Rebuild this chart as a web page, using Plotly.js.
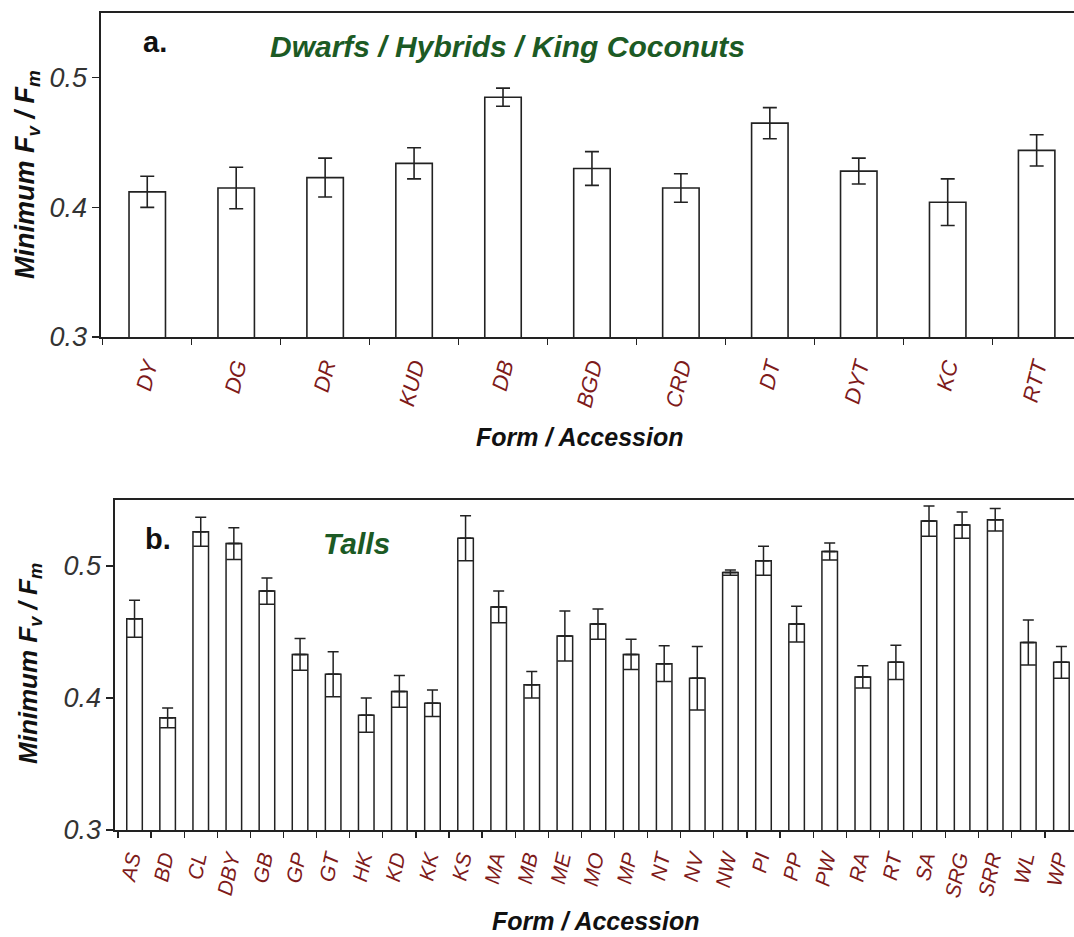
<!DOCTYPE html>
<html>
<head>
<meta charset="utf-8">
<script src="https://cdn.plot.ly/plotly-3.0.1.min.js"></script>
<style>html,body{margin:0;padding:0;background:#fff;}#chart{width:1074px;height:937px;}</style>
</head>
<body>
<div id="chart"></div>
<script>
// Panel a: Dwarfs / Hybrids / King Coconuts
const catsA = ['DY','DG','DR','KUD','DB','BGD','CRD','DT','DYT','KC','RTT'];
const meanA = [0.412,0.415,0.423,0.434,0.485,0.430,0.415,0.465,0.428,0.404,0.444];
const errA  = [0.012,0.016,0.015,0.012,0.007,0.013,0.011,0.012,0.010,0.018,0.012];

// Panel b: Talls
const catsB = ['AS','BD','CL','DBY','GB','GP','GT','HK','KD','KK','KS','MA','MB','ME','MO','MP','NT','NV','NW','PI','PP','PW','RA','RT','SA','SRG','SRR','WL','WP'];
const meanB = [0.460,0.385,0.526,0.517,0.481,0.433,0.418,0.387,0.405,0.396,0.521,0.469,0.410,0.447,0.456,0.433,0.426,0.415,0.495,0.504,0.456,0.511,0.416,0.427,0.534,0.531,0.535,0.442,0.427];
const errB  = [0.014,0.0075,0.011,0.012,0.010,0.012,0.017,0.013,0.012,0.010,0.017,0.012,0.010,0.019,0.0115,0.0115,0.0135,0.024,0.002,0.011,0.0135,0.0065,0.0085,0.013,0.0115,0.010,0.0085,0.017,0.012];

const yTicks = [0.3,0.4,0.5];
const yTickText = ['0.3','0.4','0.5'];

const W = 1074, H = 937;
const fx = x => x / W;
const fy = y => 1 - y / H;
const FONT = 'Liberation Sans, Arial, sans-serif';
const LINE = '#222222';
const RED = '#7e1a1a';
const GREEN = '#1c5a24';
const zerosB = errB.map(() => 0);

const traces = [
  {
    type: 'bar', x: catsA, y: meanA, xaxis: 'x', yaxis: 'y', width: 0.41,
    marker: {color: '#ffffff', line: {color: LINE, width: 1.6}},
    error_y: {type: 'data', array: errA, visible: true, color: LINE, thickness: 1.6, width: 7},
    hoverinfo: 'x+y'
  },
  {
    type: 'bar', x: catsB, y: meanB, xaxis: 'x2', yaxis: 'y2', width: 0.47,
    marker: {color: '#ffffff', line: {color: LINE, width: 1.5}},
    error_y: {type: 'data', symmetric: false, array: errB, arrayminus: zerosB, visible: true, color: LINE, thickness: 1.5, width: 5.5},
    hoverinfo: 'x+y'
  },
  {
    type: 'scatter', mode: 'markers', x: catsB, y: meanB, xaxis: 'x2', yaxis: 'y2',
    marker: {opacity: 0, size: 1},
    error_y: {type: 'data', symmetric: false, array: zerosB, arrayminus: errB, visible: true, color: LINE, thickness: 1.5, width: 7.5},
    hoverinfo: 'skip'
  }
];

const xCommon = {
  type: 'category', tickson: 'boundaries', ticks: 'outside', ticklen: 6, tickwidth: 1.3, tickcolor: LINE,
  showline: true, linecolor: LINE, linewidth: 1.6, mirror: true, showgrid: false, zeroline: false,
  tickangle: -76, ticklabelstandoff: 6, tickfont: {family: FONT, size: 22, color: RED, style: 'italic'}, automargin: false
};
const yCommon = {
  range: [0.3, 0.55], tickvals: yTicks, ticktext: yTickText, ticks: 'outside', ticklen: 7, tickwidth: 1.3, tickcolor: LINE,
  showline: true, linecolor: LINE, linewidth: 1.6, mirror: true, showgrid: false, zeroline: false,
  tickfont: {family: FONT, size: 27, color: '#333333', style: 'italic'}, automargin: false
};

function ann(x, y, text, size, color, extra) {
  return Object.assign({xref: 'paper', yref: 'paper', x: fx(x), y: fy(y), text: text, showarrow: false,
    xanchor: 'center', yanchor: 'middle', font: {family: FONT, size: size, color: color}}, extra || {});
}

const layout = {
  width: W, height: H, margin: {l: 0, r: 0, t: 0, b: 0},
  paper_bgcolor: '#ffffff', plot_bgcolor: '#ffffff', showlegend: false, bargap: 0.5,
  xaxis: Object.assign({}, xCommon, {domain: [fx(101), 1], range: [-0.52, 10.42], anchor: 'y'}),
  yaxis: Object.assign({}, yCommon, {domain: [fy(337), fy(13)], anchor: 'x'}),
  xaxis2: Object.assign({}, xCommon, {domain: [fx(115), 1], range: [-0.59, 28.38], anchor: 'y2',
    tickangle: -78, ticklabelshift: -4, tickfont: {family: FONT, size: 21, color: RED, style: 'italic'}}),
  yaxis2: Object.assign({}, yCommon, {domain: [fy(830), fy(500)], anchor: 'x2'}),
  annotations: [
    ann(155, 42, '<b>a.</b>', 29, '#111'),
    ann(507, 46, '<b><i>Dwarfs / Hybrids / King Coconuts</i></b>', 30, GREEN),
    ann(158, 539, '<b>b.</b>', 29, '#111'),
    ann(356, 543, '<b><i>Talls</i></b>', 30, GREEN),
    ann(27, 175, '<b><i>Minimum F<sub>v</sub> / F<sub>m</sub></i></b>', 27, '#111', {textangle: -90}),
    ann(29, 664, '<b><i>Minimum F<sub>v</sub> / F<sub>m</sub></i></b>', 26, '#111', {textangle: -90}),
    ann(579, 437, '<b><i>Form / Accession</i></b>', 25, '#111'),
    ann(595, 921, '<b><i>Form / Accession</i></b>', 25, '#111')
  ]
};

Plotly.newPlot('chart', traces, layout, {displayModeBar: false, staticPlot: true});
</script>
</body>
</html>
